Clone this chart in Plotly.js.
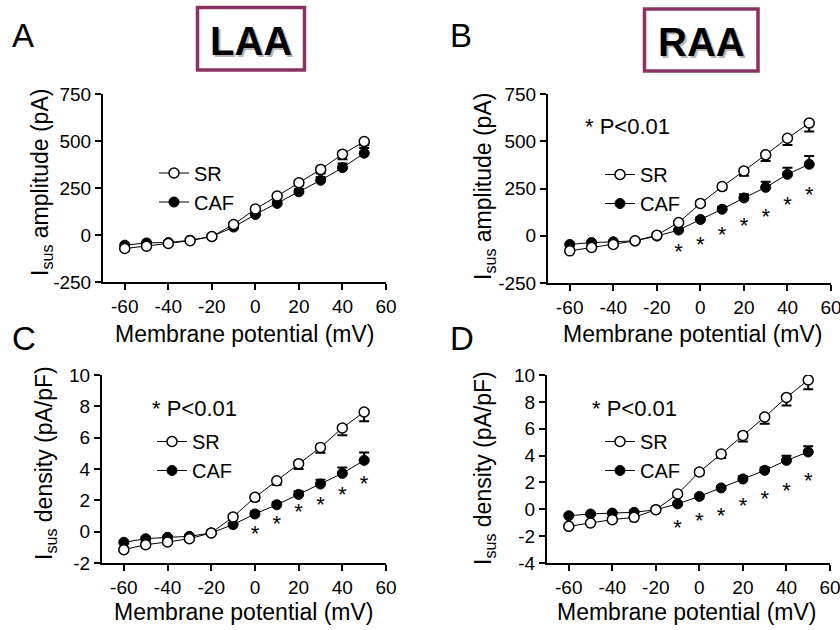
<!DOCTYPE html>
<html>
<head>
<meta charset="utf-8">
<script src="https://cdn.plot.ly/plotly-3.0.1.min.js"></script>
<style>html,body{margin:0;padding:0;background:#fff}</style>
</head>
<body>
<div id="chart" style="width:840px;height:630px"></div>
<script>
// ---- data ----
const voltage = [-60, -50, -40, -30, -20, -10, 0, 10, 20, 30, 40, 50];

// Panel A: LAA Isus amplitude (pA)
const laaAmpSR = [-72, -60, -45, -30, -8, 56, 138, 207, 278, 349, 430, 497];
const laaAmpSRerr = [5, 5, 4, 4, 3, 8, 10, 12, 15, 22, 27, 20];
const laaAmpCAF = [-54, -42, -40, -28, -8, 42, 109, 168, 230, 291, 358, 435];
const laaAmpCAFerr = [5, 5, 4, 4, 3, 8, 10, 12, 15, 18, 22, 28];

// Panel B: RAA Isus amplitude (pA)
const raaAmpSR = [-80, -62, -46, -27, 3, 70, 171, 260, 343, 428, 516, 596];
const raaAmpSRerr = [5, 5, 5, 4, 4, 8, 12, 15, 25, 32, 36, 44];
const raaAmpCAF = [-46, -36, -32, -27, -2, 30, 86, 140, 200, 256, 325, 378];
const raaAmpCAFerr = [4, 4, 4, 4, 4, 6, 10, 14, 20, 30, 35, 44];
const raaAmpSigV = [-10, 0, 10, 20, 30, 40, 50];
const raaAmpSigY = [-92, -58, -2, 42, 93, 157, 208];

// Panel C: LAA Isus density (pA/pF)
const laaDenSR = [-1.15, -0.83, -0.66, -0.45, -0.08, 0.94, 2.19, 3.25, 4.34, 5.38, 6.62, 7.64];
const laaDenSRerr = [0.1, 0.1, 0.1, 0.1, 0.1, 0.15, 0.2, 0.25, 0.34, 0.35, 0.47, 0.6];
const laaDenCAF = [-0.68, -0.45, -0.36, -0.3, -0.08, 0.45, 1.13, 1.72, 2.38, 3.04, 3.72, 4.55];
const laaDenCAFerr = [0.1, 0.1, 0.1, 0.1, 0.1, 0.1, 0.15, 0.15, 0.2, 0.28, 0.38, 0.5];
const laaDenSigV = [0, 10, 20, 30, 40, 50];
const laaDenSigY = [-0.25, 0.37, 1.15, 1.58, 2.25, 2.95];

// Panel D: RAA Isus density (pA/pF)
const raaDenSR = [-1.27, -1.02, -0.77, -0.6, -0.03, 1.14, 2.78, 4.12, 5.5, 6.87, 8.33, 9.63];
const raaDenSRerr = [0.1, 0.1, 0.1, 0.1, 0.1, 0.15, 0.2, 0.3, 0.45, 0.5, 0.6, 0.7];
const raaDenCAF = [-0.48, -0.35, -0.28, -0.23, -0.03, 0.4, 0.96, 1.59, 2.26, 2.9, 3.64, 4.27];
const raaDenCAFerr = [0.08, 0.08, 0.08, 0.08, 0.08, 0.1, 0.12, 0.15, 0.2, 0.22, 0.35, 0.42];
const raaDenSigV = [-10, 0, 10, 20, 30, 40, 50];
const raaDenSigY = [-1.5, -1.0, -0.63, 0.12, 0.66, 1.23, 2.03];

const xTicks = [-60, -40, -20, 0, 20, 40, 60];
const ampTicks = [-250, 0, 250, 500, 750];
const denTicksC = [-2, 0, 2, 4, 6, 8, 10];
const denTicksD = [-4, -2, 0, 2, 4, 6, 8, 10];
const seriesNames = ['SR', 'CAF'];
const panelLetters = ['A', 'B', 'C', 'D'];
const regionNames = ['LAA', 'RAA'];
const xTitle = 'Membrane potential (mV)';
const yTitleAmp = 'I<sub>sus</sub> amplitude (pA)';
const yTitleDen = 'I<sub>sus</sub> density (pA/pF)';
const sigText = '* P<0.01';

// ---- build ----
const FONT = 'Arial, "Liberation Sans", Helvetica, sans-serif';
const traces = [];
function addPanel(idx, sr, srErr, caf, cafErr, sigV, sigY) {
  const xa = idx === 1 ? 'x' : 'x' + idx;
  const ya = idx === 1 ? 'y' : 'y' + idx;
  const leg = idx === 1 ? 'legend' : 'legend' + idx;
  traces.push({
    x: voltage, y: caf, xaxis: xa, yaxis: ya, type: 'scatter', mode: 'lines+markers',
    name: seriesNames[1], legend: leg, legendrank: 2,
    line: {color: '#000', width: 1},
    marker: {symbol: 'circle', size: 10, color: '#000', line: {color: '#000', width: 1}},
    error_y: {type: 'data', symmetric: false, array: cafErr, arrayminus: cafErr.map(() => 0),
              color: '#000', thickness: 2, width: 5}
  });
  traces.push({
    x: voltage, y: sr, xaxis: xa, yaxis: ya, type: 'scatter', mode: 'lines+markers',
    name: seriesNames[0], legend: leg, legendrank: 1,
    line: {color: '#000', width: 1},
    marker: {symbol: 'circle', size: 10, color: '#fff', line: {color: '#000', width: 1.5}},
    error_y: {type: 'data', symmetric: false, array: srErr.map(() => 0), arrayminus: srErr,
              color: '#000', thickness: 2, width: 5}
  });
  if (sigV) {
    traces.push({
      x: sigV, y: sigY, xaxis: xa, yaxis: ya, type: 'scatter', mode: 'text',
      text: sigV.map(() => '*'), textposition: 'middle center',
      textfont: {family: FONT, size: 22, color: '#000'},
      showlegend: false, hoverinfo: 'skip'
    });
  }
}
addPanel(1, laaAmpSR, laaAmpSRerr, laaAmpCAF, laaAmpCAFerr, null, null);
addPanel(2, raaAmpSR, raaAmpSRerr, raaAmpCAF, raaAmpCAFerr, raaAmpSigV, raaAmpSigY);
addPanel(3, laaDenSR, laaDenSRerr, laaDenCAF, laaDenCAFerr, laaDenSigV, laaDenSigY);
addPanel(4, raaDenSR, raaDenSRerr, raaDenCAF, raaDenCAFerr, raaDenSigV, raaDenSigY);

const axisCommon = {
  showline: true, linecolor: '#000', linewidth: 2, ticks: 'outside', ticklen: 6,
  tickwidth: 2, tickcolor: '#000', showgrid: false, zeroline: false,
  tickfont: {family: FONT, size: 19, color: '#000'}, fixedrange: true,
  ticklabeloverflow: 'allow'
};
function xAxis(domain, anchor) {
  return Object.assign({}, axisCommon, {
    domain: domain, anchor: anchor, range: [-70, 60],
    tickmode: 'array', tickvals: xTicks, ticktext: xTicks.map(String)
  });
}
function yAxis(domain, anchor, range, ticks) {
  return Object.assign({}, axisCommon, {
    domain: domain, anchor: anchor, range: range,
    tickmode: 'array', tickvals: ticks, ticktext: ticks.map(String)
  });
}
const W = 840, H = 630;
const px = v => v / W, py = v => 1 - v / H;

function legendAt(xpx, ypx) {
  return {x: px(xpx), y: py(ypx), xanchor: 'left', yanchor: 'middle',
          bgcolor: 'rgba(0,0,0,0)', borderwidth: 0,
          font: {family: FONT, size: 20, color: '#000'}, traceorder: 'normal'};
}

const annotations = [];
const letterPos = [[10, 35], [448, 35], [10, 338], [448, 338]];
panelLetters.forEach((L, i) => {
  annotations.push({text: L, xref: 'paper', yref: 'paper', x: px(letterPos[i][0]), y: py(letterPos[i][1]),
    xanchor: 'left', yanchor: 'middle', showarrow: false, font: {family: FONT, size: 33, color: '#000'}});
});
const boxCenters = [[251, 41], [701, 42]];
regionNames.forEach((r, i) => {
  annotations.push({text: '<b>' + r + '</b>', xref: 'paper', yref: 'paper',
    x: px(boxCenters[i][0] + 2), y: py(boxCenters[i][1] + 2), xanchor: 'center', yanchor: 'middle',
    showarrow: false, font: {family: FONT, size: 40, color: 'rgba(120,120,120,0.55)'}});
  annotations.push({text: '<b>' + r + '</b>', xref: 'paper', yref: 'paper',
    x: px(boxCenters[i][0]), y: py(boxCenters[i][1]), xanchor: 'center', yanchor: 'middle',
    showarrow: false, font: {family: FONT, size: 40, color: '#000'}});
});
const sigPos = [[583, 127], [150, 408], [590, 408]];
sigPos.forEach(p => {
  annotations.push({text: sigText, xref: 'paper', yref: 'paper', x: px(p[0]), y: py(p[1]),
    xanchor: 'left', yanchor: 'middle', showarrow: false, font: {family: FONT, size: 22, color: '#000'}});
});
// axis titles
const xTitlePos = [[245, 334], [693, 334], [244, 612], [687, 612]];
xTitlePos.forEach(p => {
  annotations.push({text: xTitle, xref: 'paper', yref: 'paper', x: px(p[0]), y: py(p[1]),
    xanchor: 'center', yanchor: 'middle', showarrow: false, font: {family: FONT, size: 23, color: '#000'}});
});
const yTitlePos = [[41, 183, yTitleAmp], [484, 186, yTitleAmp], [45, 463, yTitleDen], [484, 468, yTitleDen]];
yTitlePos.forEach(p => {
  annotations.push({text: p[2], xref: 'paper', yref: 'paper', x: px(p[0]), y: py(p[1]), textangle: -90,
    xanchor: 'center', yanchor: 'middle', showarrow: false, font: {family: FONT, size: 23, color: '#000'}});
});

const shapes = [
  {type: 'rect', xref: 'paper', yref: 'paper', x0: px(197.5), x1: px(304.5), y0: py(70), y1: py(7.5),
   line: {color: '#8a3360', width: 3.5}},
  {type: 'rect', xref: 'paper', yref: 'paper', x0: px(644.5), x1: px(758), y0: py(71), y1: py(9),
   line: {color: '#8a3360', width: 3.5}}
];

const layout = {
  width: W, height: H, margin: {l: 0, r: 0, t: 0, b: 0},
  paper_bgcolor: '#fff', plot_bgcolor: 'rgba(0,0,0,0)',
  font: {family: FONT, color: '#000'},
  xaxis: xAxis([px(103), px(386)], 'y'),
  yaxis: yAxis([py(282), py(94)], 'x', [-250, 750], ampTicks),
  xaxis2: xAxis([px(548), px(831)], 'y2'),
  yaxis2: yAxis([py(283), py(94)], 'x2', [-250, 750], ampTicks),
  xaxis3: xAxis([px(102), px(386)], 'y3'),
  yaxis3: yAxis([py(563), py(375)], 'x3', [-2, 10], denTicksC),
  xaxis4: xAxis([px(547), px(830)], 'y4'),
  yaxis4: yAxis([py(563), py(375)], 'x4', [-4, 10], denTicksD),
  legend: legendAt(154, 187.5),
  legend2: legendAt(600, 189),
  legend3: legendAt(152, 456),
  legend4: legendAt(600, 456),
  annotations: annotations,
  shapes: shapes,
  showlegend: true
};
Plotly.newPlot('chart', traces, layout, {staticPlot: true, displayModeBar: false});
</script>
</body>
</html>
